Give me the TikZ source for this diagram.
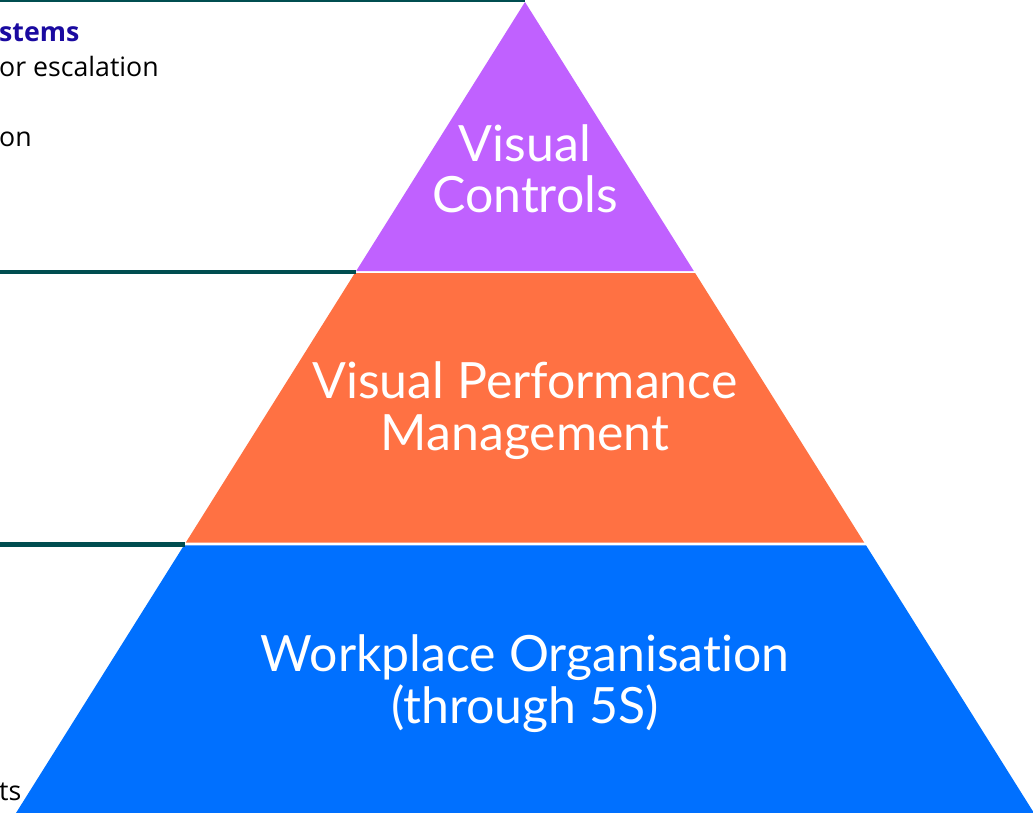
\documentclass[tikz,border=0pt]{standalone}
\usepackage{fontspec}
\setmainfont{Lato}[Ligatures=NoCommon]
\newfontfamily\sidefont{Open Sans}
\definecolor{ppurple}{RGB}{192,97,255}
\definecolor{porange}{RGB}{255,113,67}
\definecolor{pblue}{RGB}{0,112,255}
\definecolor{lineteal}{RGB}{0,77,80}
\definecolor{headblue}{RGB}{26,10,160}
\begin{document}
\begin{tikzpicture}[x=1pt,y=-1pt,
  rule/.style={draw=lineteal,line width=4.5pt},
  ptext/.style={text=white,font=\fontsize{50}{52}\selectfont,anchor=base,inner sep=0pt},
  stext/.style={text=black,font=\sidefont\fontsize{26.7}{35}\selectfont,anchor=base west,inner sep=0pt},
  shead/.style={text=headblue,font=\sidefont\bfseries\fontsize{26.7}{35}\selectfont,anchor=base west,inner sep=0pt}]
\useasboundingbox (0,0) rectangle (1033,813);
% pyramid bands
\fill[ppurple] (525,2) -- (356.2,271) -- (693.8,271) -- cycle;
\fill[porange] (354.9,273) -- (695.1,273) -- (864.3,542.7) -- (185.7,542.7) -- cycle;
\fill[pblue] (184.0,545.3) -- (866.0,545.3) -- (1034,813) -- (16,813) -- cycle;
% rules
\draw[draw=lineteal,line width=3pt] (0,0.5) -- (525,0.5);
\draw[rule] (0,271.8) -- (356,271.8);
\draw[rule] (0,544.5) -- (184.5,544.5);
% pyramid labels
\node[ptext] (vc1) at (525,162) {Visual};
\node[ptext] (vc2) at (525,212) {Controls};
\node[ptext] (vp1) at (525,398) {Visual Performance};
\node[ptext] (vp2) at (525,450) {Management};
\node[ptext] (wo1) at (525,671) {Workplace Organisation};
\node[ptext] (wo2) at (525,723) {(through 5S)};
% clipped side texts
\node[shead] (s1) at (-1,42) {stems};
\node[stext] (s2) at (-1,77) {or escalation};
\node[stext] (s3) at (-1,147) {on};
\node[stext] (s4) at (-1,800) {ts};
\end{tikzpicture}
\end{document}
